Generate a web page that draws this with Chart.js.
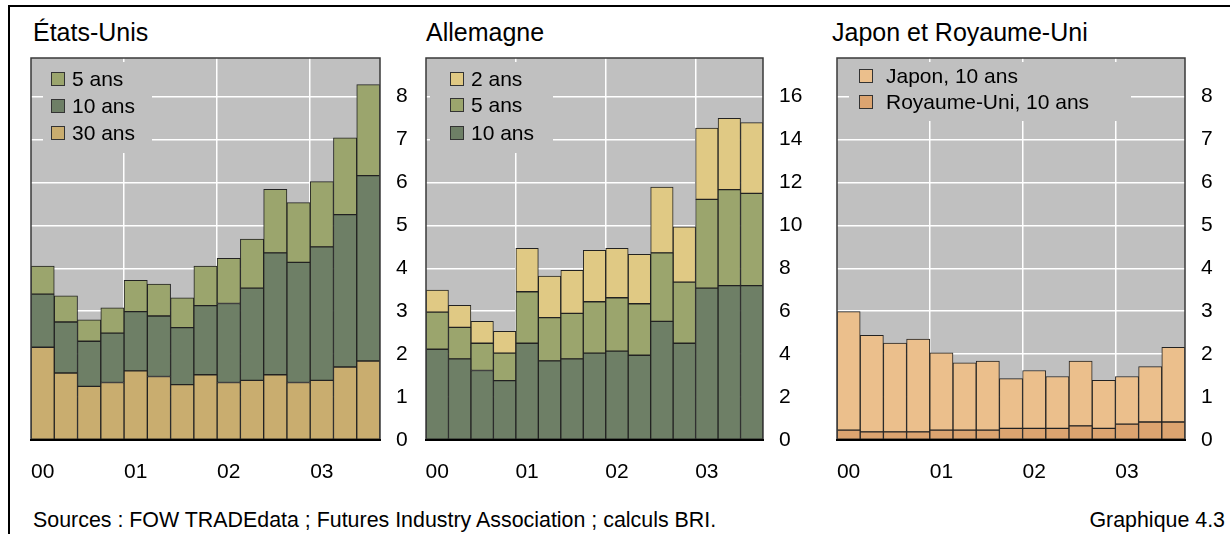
<!DOCTYPE html>
<html>
<head>
<meta charset="utf-8">
<script src="https://cdn.jsdelivr.net/npm/chart.js@4.4.1/dist/chart.umd.min.js"></script>
<style>
  body { margin: 0; background: #fff; }
  #page { position: relative; width: 1230px; height: 534px; overflow: hidden; font-family: "Liberation Sans", Arial, sans-serif; color: #000; }
  .frameTop { position: absolute; left: 8px; top: 5px; width: 1222px; height: 2px; background: #000; }
  .frameLeft { position: absolute; left: 8px; top: 5px; width: 2px; height: 529px; background: #000; }
  .panelTitle { position: absolute; top: 18px; font-size: 25px; white-space: nowrap; }
  .footer { position: absolute; top: 508px; font-size: 21.4px; white-space: nowrap; }
  canvas { position: absolute; }
</style>
</head>
<body>
<div id="page">
  <div class="frameTop"></div>
  <div class="frameLeft"></div>

  <div class="panelTitle" style="left:33px">États-Unis</div>
  <div class="panelTitle" style="left:426px">Allemagne</div>
  <div class="panelTitle" style="left:832px">Japon et Royaume-Uni</div>

  <canvas id="usChart" style="left:25px; top:50px" width="400" height="440"></canvas>
  <canvas id="deChart" style="left:420px; top:50px" width="388" height="440"></canvas>
  <canvas id="jpChart" style="left:831px; top:50px" width="399" height="440"></canvas>

  <div class="footer" style="left:33px">Sources : FOW TRADEdata ; Futures Industry Association ; calculs BRI.</div>
  <div class="footer" style="right:5px">Graphique 4.3</div>
</div>

<script>
// quarters 2000 Q1 .. 2003 Q3, label only on the first quarter of each year
const quarterLabels = ['00', '', '', '', '01', '', '', '', '02', '', '', '', '03', '', ''];

// Etats-Unis
const us30 = [2.16, 1.56, 1.25, 1.34, 1.61, 1.48, 1.29, 1.52, 1.34, 1.39, 1.52, 1.34, 1.39, 1.70, 1.84];
const us10 = [1.24, 1.19, 1.05, 1.15, 1.38, 1.41, 1.33, 1.61, 1.84, 2.15, 2.84, 2.80, 3.11, 3.55, 4.32];
const us5  = [0.65, 0.61, 0.50, 0.59, 0.73, 0.74, 0.69, 0.92, 1.05, 1.14, 1.48, 1.39, 1.52, 1.79, 2.12];

// Allemagne
const de10 = [4.23, 3.78, 3.24, 2.77, 4.51, 3.69, 3.78, 4.05, 4.14, 3.95, 5.53, 4.51, 7.08, 7.19, 7.19];
const de5  = [1.73, 1.47, 1.27, 1.28, 2.40, 2.01, 2.12, 2.39, 2.49, 2.40, 3.19, 2.85, 4.13, 4.48, 4.30];
const de2  = [1.03, 1.02, 1.02, 1.01, 2.02, 1.94, 2.01, 2.40, 2.30, 2.30, 3.06, 2.57, 3.33, 3.32, 3.30];

// Japon et Royaume-Uni
const uk10 = [0.23, 0.19, 0.19, 0.19, 0.23, 0.23, 0.23, 0.27, 0.27, 0.27, 0.33, 0.27, 0.37, 0.42, 0.42];
const jp10 = [2.76, 2.25, 2.07, 2.16, 1.80, 1.57, 1.61, 1.16, 1.35, 1.21, 1.51, 1.12, 1.11, 1.29, 1.74];

const usTicks = [0, 1, 2, 3, 4, 5, 6, 7, 8];
const deTicks = [0, 2, 4, 6, 8, 10, 12, 14, 16];
const jpTicks = [0, 1, 2, 3, 4, 5, 6, 7, 8];

const plotGrey = '#c0c0c0';
const fontFamily = '"Liberation Sans", Arial, sans-serif';

Chart.defaults.font.family = fontFamily;
Chart.defaults.color = '#000';

// grey plot background + outline
const plotFrame = {
    id: 'plotFrame',
    beforeDraw(chart) {
        const a = chart.chartArea, ctx = chart.ctx;
        ctx.save();
        ctx.fillStyle = plotGrey;
        ctx.fillRect(a.left, a.top, a.right - a.left, a.bottom - a.top);
        ctx.restore();
    },
    afterDraw(chart) {
        const a = chart.chartArea, ctx = chart.ctx;
        ctx.save();
        ctx.strokeStyle = '#3a3a3a';
        ctx.lineWidth = 1.5;
        ctx.strokeRect(a.left, a.top, a.right - a.left, a.bottom - a.top);
        ctx.strokeStyle = '#000';
        ctx.lineWidth = 2;
        ctx.beginPath();
        ctx.moveTo(a.left - 1, a.bottom);
        ctx.lineTo(a.right + 1, a.bottom);
        ctx.stroke();
        ctx.restore();
    }
};

// legend drawn inside the plot on a grey patch that hides the grid
const boxLegend = {
    id: 'boxLegend',
    afterDatasetsDraw(chart, args, opts) {
        const a = chart.chartArea, ctx = chart.ctx;
        ctx.save();
        ctx.fillStyle = plotGrey;
        ctx.fillRect(a.left + opts.x, a.top + opts.y, opts.w, opts.h);
        ctx.font = '21px ' + fontFamily;
        ctx.textBaseline = 'middle';
        opts.order.forEach(function(dsIndex, row) {
            const ds = chart.data.datasets[dsIndex];
            const cy = a.top + opts.rows[row];
            ctx.fillStyle = ds.backgroundColor;
            ctx.fillRect(a.left + opts.swatchX, cy - 7, 14, 14);
            ctx.strokeStyle = '#333';
            ctx.lineWidth = 1;
            ctx.strokeRect(a.left + opts.swatchX + 0.5, cy - 6.5, 13, 13);
            ctx.fillStyle = '#000';
            ctx.fillText(ds.label, a.left + opts.textX, cy + 1);
        });
        ctx.restore();
    }
};

function noPadding(scale) {
    scale.paddingLeft = 0;
    scale.paddingRight = 0;
    scale.paddingTop = 0;
    scale.paddingBottom = 0;
}

function barSet(label, data, color) {
    return {
        label: label,
        data: data,
        backgroundColor: color,
        borderColor: '#222',
        borderWidth: 1,
        borderSkipped: false,
        barPercentage: 1,
        categoryPercentage: 1
    };
}

function makePanel(canvasId, datasets, tickValues, yMax, legendOpts) {
    const ctx = document.getElementById(canvasId).getContext('2d');
    return new Chart(ctx, {
        type: 'bar',
        data: { labels: quarterLabels, datasets: datasets },
        plugins: [plotFrame, boxLegend],
        options: {
            responsive: false,
            animation: false,
            layout: { autoPadding: false, padding: { left: 6, top: 8, right: 0, bottom: 0 } },
            plugins: {
                legend: { display: false },
                tooltip: { enabled: false },
                boxLegend: legendOpts
            },
            scales: {
                x: {
                    stacked: true,
                    border: { display: false },
                    grid: {
                        offset: true,
                        drawTicks: false,
                        lineWidth: 1.5,
                        color: function(c) {
                            return (c.index === 4 || c.index === 8 || c.index === 12) ? '#fff' : 'rgba(0,0,0,0)';
                        }
                    },
                    ticks: { autoSkip: false, maxRotation: 0, padding: 20, font: { size: 21 } },
                    afterFit: function(scale) { scale.height = 50; noPadding(scale); }
                },
                y: {
                    stacked: true,
                    position: 'right',
                    min: 0,
                    max: yMax,
                    border: { display: false },
                    afterBuildTicks: function(scale) {
                        scale.ticks = tickValues.map(function(v) { return { value: v }; });
                    },
                    grid: {
                        drawTicks: false,
                        lineWidth: 1.5,
                        color: function(c) { return c.tick && c.tick.value > 0 ? '#fff' : 'rgba(0,0,0,0)'; }
                    },
                    ticks: { padding: 16, font: { size: 21 } },
                    afterFit: function(scale) { scale.width = 45; noPadding(scale); }
                }
            }
        }
    });
}

makePanel('usChart', [
    barSet('30 ans', us30, '#c9ad6f'),
    barSet('10 ans', us10, '#6e7f66'),
    barSet('5 ans', us5, '#9ba56d')
], usTicks, 8.9, { x: 12, y: 4, w: 109, h: 91, swatchX: 20, textX: 41, rows: [21, 48, 75], order: [2, 1, 0] });

makePanel('deChart', [
    barSet('10 ans', de10, '#6e7f66'),
    barSet('5 ans', de5, '#9ba56d'),
    barSet('2 ans', de2, '#e0c984')
], deTicks, 17.8, { x: 4, y: 4, w: 123, h: 91, swatchX: 24, textX: 45, rows: [21, 47, 75], order: [2, 1, 0] });

makePanel('jpChart', [
    barSet('Royaume-Uni, 10 ans', uk10, '#dca470'),
    barSet('Japon, 10 ans', jp10, '#ebbf8c')
], jpTicks, 8.9, { x: 12, y: 4, w: 282, h: 59, swatchX: 22, textX: 49, rows: [18, 44], order: [1, 0] });
</script>
</body>
</html>
